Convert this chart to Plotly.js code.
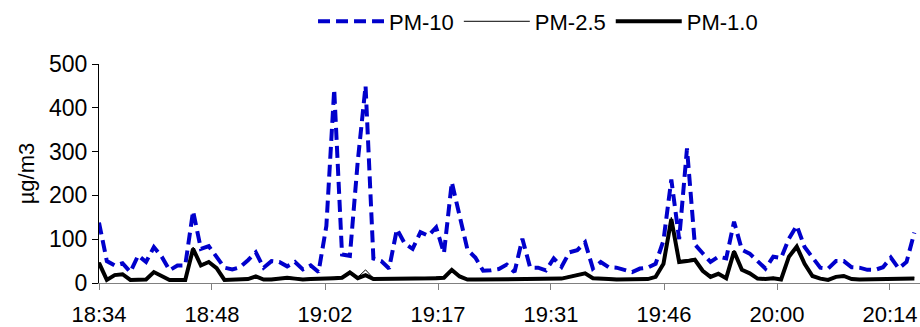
<!DOCTYPE html>
<html>
<head>
<meta charset="utf-8">
<script src="https://cdn.plot.ly/plotly-3.0.1.min.js"></script>
<style>html,body{margin:0;padding:0;background:#fff;}#chart{width:920px;height:327px;}</style>
</head>
<body>
<div id="chart"></div>
<script>
// sample index (about one reading per minute from 18:34)
const tickLabels = ["18:34","18:48","19:02","19:17","19:31","19:46","20:00","20:14"];
const tickPos = [0, 14.41, 28.83, 43.24, 57.65, 72.07, 86.48, 100.89];

const pm10 = [138,50,40,45,25,63,48,82,60,29,
  40,40,164,78,84,60,35,31,36,52,
  70,35,50,48,38,48,31,40,25,130,
  442,65,62,277,450,56,50,33,123,90,
  78,116,108,127,68,230,150,76,58,28,
  29,32,42,25,101,35,35,29,56,37,
  70,75,93,33,48,36,35,30,25,33,
  35,44,97,236,100,307,88,68,48,60,
  56,140,76,67,50,33,60,57,101,131,
  82,58,35,33,50,50,36,35,30,30,
  36,58,33,48,115];

const pm25 = [48,9,20,22,9,9,10,27,18,9,
  9,9,82,43,50,36,9,9,10,11,
  17,10,10,11,14,12,10,11,11,12,
  13,15,27,13,30,11,11,11,12,12,
  12,12,13,13,14,32,17,10,10,10,
  10,10,10,10,10,10,10,10,11,12,
  16,20,24,13,11,11,10,10,10,10,
  11,16,47,150,51,53,56,30,16,23,
  13,75,32,24,12,11,13,10,62,86,
  46,18,12,9,16,18,11,10,10,10,
  10,10,10,12,12];

const pm1 = [46,7,18,20,7,7,8,25,16,7,
  7,7,78,40,48,34,7,7,8,9,
  15,8,8,9,12,10,8,9,9,10,
  11,12,24,11,18,9,9,9,10,10,
  10,10,11,11,12,30,15,8,8,8,
  8,8,8,8,8,8,8,9,9,10,
  14,18,22,11,9,9,8,8,8,8,
  9,14,44,146,48,50,53,28,14,21,
  11,72,30,22,10,9,11,8,60,83,
  44,16,10,7,14,16,9,8,8,8,
  8,8,8,10,10];

const idx = pm10.map((_, i) => i);
const FONT = "Liberation Sans, Arial, sans-serif";

const traces = [
  {x: idx, y: pm10, name: "PM-10", type: "scatter", mode: "lines",
   line: {color: "#0000CC", width: 4, dash: "12px,6px"}},
  {x: idx, y: pm25, name: "PM-2.5", type: "scatter", mode: "lines",
   line: {color: "#000000", width: 1}},
  {x: idx, y: pm1, name: "PM-1.0", type: "scatter", mode: "lines",
   line: {color: "#000000", width: 4}}
];

const layout = {
  width: 920, height: 327,
  margin: {l: 99, r: 0, t: 61, b: 44},
  paper_bgcolor: "#fff", plot_bgcolor: "#fff",
  font: {family: FONT, size: 22, color: "#000"},
  showlegend: true,
  legend: {orientation: "h", x: 0.2607, xanchor: "left", y: 1.29, yanchor: "top",
           itemwidth: 66, font: {family: FONT, size: 22, color: "#000"},
           bgcolor: "rgba(0,0,0,0)", tracegroupgap: 0},
  xaxis: {range: [0, 104.72], tickmode: "array", tickvals: tickPos, ticktext: tickLabels,
          showgrid: false, zeroline: false, showline: true, linecolor: "#808080", linewidth: 1,
          ticks: "outside", ticklen: 6, tickcolor: "#808080", tickfont: {family: FONT, size: 22},
          ticklabelstandoff: 6, ticklabeloverflow: "allow", fixedrange: true},
  yaxis: {range: [0, 500], tickvals: [0,100,200,300,400,500],
          showgrid: false, zeroline: false, showline: true, linecolor: "#000", linewidth: 1,
          ticks: "outside", ticklen: 6, tickcolor: "#000", tickfont: {family: FONT, size: 23},
          title: {text: "µg/m3", font: {family: FONT, size: 22}, standoff: 8},
          fixedrange: true}
};

Plotly.newPlot("chart", traces, layout, {staticPlot: true, displayModeBar: false});
</script>
</body>
</html>
